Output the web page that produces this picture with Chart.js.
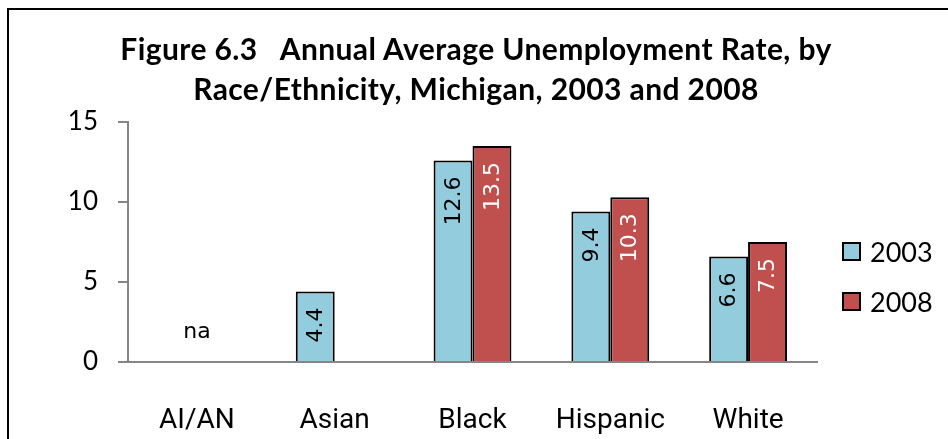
<!DOCTYPE html>
<html>
<head>
<meta charset="utf-8">
<script src="https://cdn.jsdelivr.net/npm/chart.js@4/dist/chart.umd.min.js"></script>
<style>
  html, body { margin: 0; padding: 0; background: #fff; }
  #wrap { position: relative; width: 948px; height: 439px; overflow: hidden; }
  #frame { position: absolute; left: 7px; top: 8px; width: 1000px; height: 1000px;
           border-left: 2px solid #000; border-top: 2px solid #000; box-sizing: border-box; }
  canvas { position: absolute; left: 0; top: 0; }
  #title { position: absolute; left: 0; width: 952px; top: 28px; text-align: center;
           font-family: Lato, "Open Sans", sans-serif; font-weight: bold; font-size: 30px;
           letter-spacing: 0.4px; line-height: 40px; color: #000; }
  #legend { position: absolute; left: 842px; top: 226px; font-family: Lato, "Open Sans", sans-serif;
            font-size: 27px; color: #000; }
  .li { display: flex; align-items: center; height: 50px; }
  .sw { width: 15px; height: 15px; border: 2px solid #000; margin-right: 9px; }
</style>
</head>
<body>
<div id="wrap">
  <div id="frame"></div>
  <canvas id="c" width="948" height="439"></canvas>
  <div id="title"></div>
  <div id="legend"></div>
</div>
<script>
const categories = ["AI/AN", "Asian", "Black", "Hispanic", "White"];
const seriesNames = ["2003", "2008"];
const values2003 = [null, 4.4, 12.6, 9.4, 6.6];
const values2008 = [null, null, 13.5, 10.3, 7.5];
const naLabels = ["na", "", "", "", ""];
const yTicks = [0, 5, 10, 15];
const titleLines = ["Figure 6.3\u00a0\u00a0 Annual Average Unemployment Rate, by", "Race/Ethnicity, Michigan, 2003 and 2008"];

const colors = ["#93CDDD", "#C0504D"];
const labelColors = ["#000000", "#FFFFFF"];

const titleEl = document.getElementById("title");
titleLines.forEach(t => {
  const d = document.createElement("div");
  d.textContent = t;
  titleEl.appendChild(d);
});

const legendEl = document.getElementById("legend");
seriesNames.forEach((n, i) => {
  const d = document.createElement("div");
  d.className = "li";
  d.innerHTML = '<span class="sw" style="background:' + colors[i] + '"></span><span>' + n + '</span>';
  legendEl.appendChild(d);
});

const barLabels = {
  id: "barLabels",
  afterDatasetsDraw(chart) {
    const ctx = chart.ctx;
    chart.data.datasets.forEach((ds, di) => {
      const meta = chart.getDatasetMeta(di);
      meta.data.forEach((bar, i) => {
        const v = ds.data[i];
        if (v === null || v === undefined) return;
        ctx.save();
        ctx.translate(bar.x, bar.y + 16);
        ctx.rotate(-Math.PI / 2);
        ctx.font = '22px "DejaVu Sans", Verdana, sans-serif';
        ctx.fillStyle = labelColors[di];
        ctx.textAlign = "right";
        ctx.textBaseline = "middle";
        ctx.fillText(v.toFixed(1), 0, 1);
        ctx.restore();
      });
    });
    const xs = chart.scales.x, ys = chart.scales.y;
    ctx.save();
    ctx.font = '22px "DejaVu Sans", Verdana, sans-serif';
    ctx.fillStyle = "#000";
    ctx.textAlign = "center";
    ctx.textBaseline = "middle";
    naLabels.forEach((t, i) => {
      if (!t) return;
      ctx.fillText(t, xs.getPixelForValue(i), ys.getPixelForValue(0) - 30);
    });
    ctx.restore();
  }
};

new Chart(document.getElementById("c"), {
  type: "bar",
  data: {
    labels: categories,
    datasets: [
      { label: seriesNames[0], data: values2003, backgroundColor: colors[0], borderColor: "#000", borderWidth: 2,
        categoryPercentage: 0.565, barPercentage: 1.0 },
      { label: seriesNames[1], data: values2008, backgroundColor: colors[1], borderColor: "#000", borderWidth: 2,
        categoryPercentage: 0.565, barPercentage: 1.0 }
    ]
  },
  options: {
    responsive: false,
    animation: false,
    layout: { padding: { left: 0, right: 131, top: 122, bottom: 0 } },
    plugins: {
      legend: { display: false },
      tooltip: { enabled: false },
      title: { display: false }
    },
    scales: {
      x: {
        grid: { display: false },
        border: { display: true, color: "#868686", width: 2 },
        ticks: { color: "#000", padding: 34, font: { family: "Roboto, sans-serif", size: 28 } },
        afterFit(s) { s.height = 77; }
      },
      y: {
        min: 0, max: 15,
        afterBuildTicks(s) { s.ticks = yTicks.map(v => ({ value: v })); },
        grid: { display: true, drawOnChartArea: false, drawTicks: true, tickLength: 10, color: "#868686", lineWidth: 2 },
        border: { display: true, color: "#868686", width: 2 },
        ticks: { color: "#000", padding: 20, font: { family: "Lato, sans-serif", size: 26 } },
        afterFit(s) { s.width = 128; }
      }
    }
  },
  plugins: [barLabels]
});
</script>
</body>
</html>
